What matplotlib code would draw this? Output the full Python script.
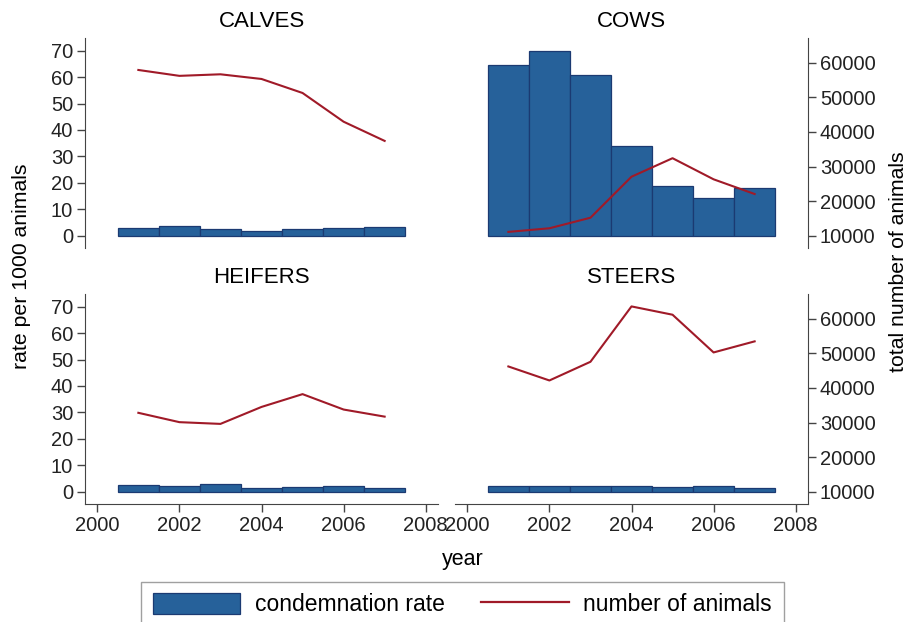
import matplotlib
matplotlib.use("Agg")
import matplotlib.pyplot as plt
from matplotlib.patches import Patch
from matplotlib.lines import Line2D

plt.rcParams["font.family"] = ["Liberation Sans", "DejaVu Sans"]

years = [2001, 2002, 2003, 2004, 2005, 2006, 2007]
panels = ["CALVES", "COWS", "HEIFERS", "STEERS"]

# condemnation rate per 1000 animals
calves_rate = [2.8, 3.7, 2.4, 1.9, 2.4, 2.9, 3.2]
cows_rate = [64.6, 70.0, 60.9, 34.1, 18.7, 14.1, 18.2]
heifers_rate = [2.4, 2.2, 2.9, 1.5, 1.8, 2.0, 1.5]
steers_rate = [2.3, 2.3, 2.3, 2.0, 1.9, 2.3, 1.5]

# total number of animals
calves_n = [57900, 56200, 56650, 55300, 51250, 42950, 37400]
cows_n = [11100, 12150, 15200, 27050, 32400, 26300, 22050]
heifers_n = [32800, 30100, 29600, 34500, 38200, 33750, 31700]
steers_n = [46200, 42150, 47550, 63550, 61150, 50250, 53450]

rates = [calves_rate, cows_rate, heifers_rate, steers_rate]
numbers = [calves_n, cows_n, heifers_n, steers_n]

bar_color = "#26619a"
bar_edge = "#1b3a72"
line_color = "#a01a28"
spine_color = "#444444"

rate_lim = (-4.65, 74.8)
# number axis aligned so 10000 sits at rate 0
scale = 763.9
num_lim = (10000 + rate_lim[0] * scale, 10000 + rate_lim[1] * scale)

fig = plt.figure(figsize=(9.09, 6.22), dpi=100)

W, H = 909, 622
boxes = [(85, 38), (455, 38), (85, 294), (455, 294)]
aw, ah = 353, 210

for i, name in enumerate(panels):
    x0, y0 = boxes[i]
    ax = fig.add_axes([x0 / W, 1 - (y0 + ah) / H, aw / W, ah / H])
    ax2 = ax.twinx()

    ax.bar(years, rates[i], width=1.0, color=bar_color, edgecolor=bar_edge, linewidth=0.9)
    ax2.plot(years, numbers[i], color=line_color, linewidth=1.5)

    ax.set_xlim(1999.7, 2008.3)
    ax.set_ylim(*rate_lim)
    ax2.set_ylim(*num_lim)
    ax.set_title(name, fontsize=16, pad=8)

    for a in (ax, ax2):
        for s in a.spines.values():
            s.set_visible(False)
        a.tick_params(colors=spine_color, labelcolor="#222222", labelsize=14.5,
                      length=6, width=1, pad=2.5)

    left = i % 2 == 0
    bottom = i >= 2

    if left:
        ax.spines["left"].set_visible(True)
        ax.spines["left"].set_color(spine_color)
        ax.set_yticks(range(0, 71, 10))
    else:
        ax.set_yticks([])
    if not left:
        ax2.spines["right"].set_visible(True)
        ax2.spines["right"].set_color(spine_color)
        ax2.set_yticks(range(10000, 60001, 10000))
    else:
        ax2.set_yticks([])

    if bottom:
        ax.spines["bottom"].set_visible(True)
        ax.spines["bottom"].set_color(spine_color)
        ax.set_xticks(range(2000, 2009, 2))
    else:
        ax.set_xticks([])

fig.text(22 / W, 1 - 266 / H, "rate per 1000 animals", rotation=90,
         ha="center", va="center", fontsize=15.3)
fig.text(899 / W, 1 - 262 / H, "total number of animals", rotation=90,
         ha="center", va="center", fontsize=15.3)
fig.text(463 / W, 1 - 560 / H, "year", ha="center", va="center", fontsize=15.5)

handles = [Patch(facecolor=bar_color, edgecolor=bar_edge, linewidth=0.9),
           Line2D([], [], color=line_color, linewidth=1.6)]
leg = fig.legend(handles, ["condemnation rate", "number of animals"],
                 loc="lower center", bbox_to_anchor=(462.5 / W, -0.028), ncol=2,
                 fontsize=16.5, frameon=True, fancybox=False, handlelength=3.8,
                 handleheight=1.0, handletextpad=0.65, columnspacing=1.6,
                 borderpad=0.5)
leg.get_frame().set_edgecolor("#888888")
leg.get_frame().set_linewidth(1.0)

fig.savefig("out.png", dpi=100, facecolor="white")
